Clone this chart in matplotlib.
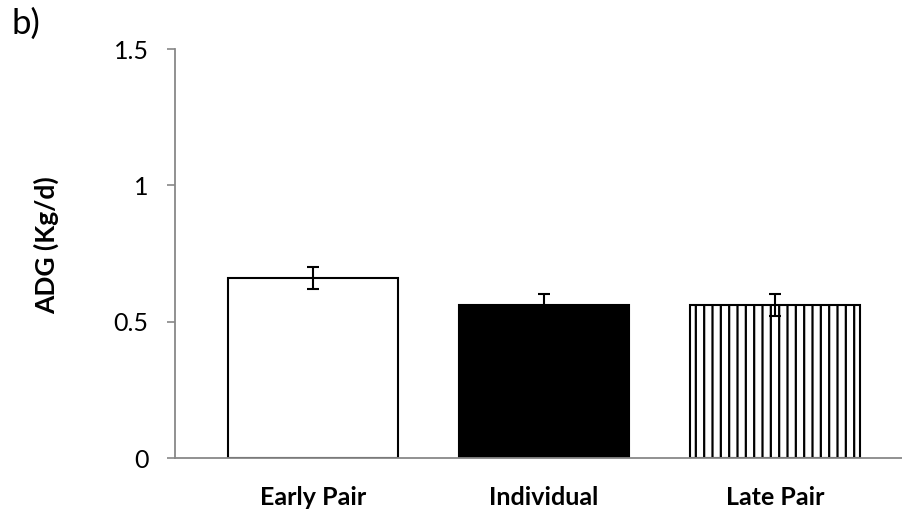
import matplotlib.pyplot as plt

plt.rcParams["font.family"] = ["Lato", "DejaVu Sans"]
plt.rcParams["hatch.linewidth"] = 1.6

groups = ["Early Pair", "Individual", "Late Pair"]
adg = [0.66, 0.56, 0.56]
err = [0.04, 0.04, 0.04]
face = ["white", "black", "white"]
hatch = ["", "", "||"]

fig = plt.figure(figsize=(9.02, 5.15), dpi=100)
ax = fig.add_axes([175 / 902, 57 / 515, (902 - 175) / 902, (458 - 49) / 515])

x = list(range(len(groups)))
for xi, v, fc, h in zip(x, adg, face, hatch):
    ax.bar(xi, v, width=0.736, color=fc, edgecolor="black", linewidth=1.5, hatch=h, zorder=2)
ax.errorbar(x, adg, yerr=err, fmt="none", ecolor="black", elinewidth=1.5,
            capsize=4.5, capthick=1.5, zorder=3)

ax.set_xlim(-0.597, 2.55)
ax.set_ylim(0, 1.5)
ax.set_yticks([0, 0.5, 1, 1.5])
ax.set_yticklabels(["0", "0.5", "1", "1.5"], fontsize=18)
ax.set_xticks(x)
ax.set_xticklabels(groups, fontsize=18, fontweight="bold")
ax.tick_params(axis="x", length=0, pad=20)
ax.tick_params(axis="y", length=6, width=1.2, color="#888888", pad=13)

for s in ["top", "right"]:
    ax.spines[s].set_visible(False)
for s in ["left", "bottom"]:
    ax.spines[s].set_color("#888888")
    ax.spines[s].set_linewidth(1.3)

ax.set_ylabel("ADG (Kg/d)", fontsize=19, fontweight="bold")
# centre of the label sits a little above the middle of the axis
ax.yaxis.set_label_coords(-116 / 727, 0.52)
fig.text(12 / 902, 1 - 24 / 515, "b)", fontsize=25, va="center", ha="left")

fig.savefig("out.png", dpi=100)
